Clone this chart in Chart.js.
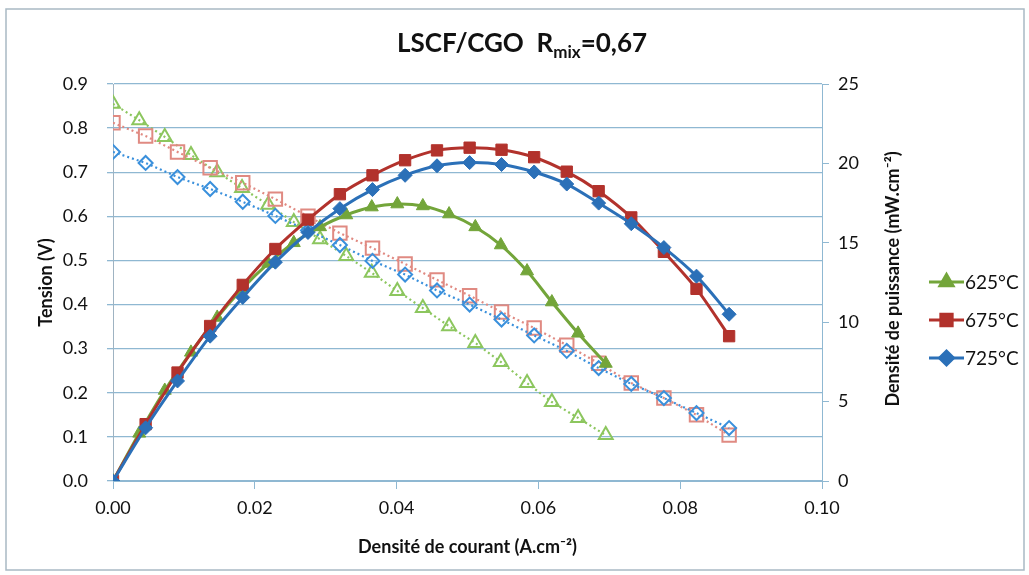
<!DOCTYPE html>
<html>
<head>
<meta charset="utf-8">
<script src="https://cdn.jsdelivr.net/npm/chart.js@4.4.1/dist/chart.umd.min.js"></script>
<style>
  html, body { margin: 0; padding: 0; background: #fff; }
  #wrap { position: relative; width: 1029px; height: 575px; }
</style>
</head>
<body>
<div id="wrap"><canvas id="chart"></canvas></div>
<script>
// current density (A.cm-2)
const current625 = [0, 0.0037, 0.0073, 0.0110, 0.0147, 0.0182, 0.0219, 0.0255, 0.0292, 0.0329,
                    0.0365, 0.0401, 0.0437, 0.0474, 0.0511, 0.0547, 0.0584, 0.0619, 0.0656, 0.0695];
const current675 = [0, 0.0046, 0.0091, 0.0137, 0.0183, 0.0229, 0.0275, 0.0320, 0.0366, 0.0412,
                    0.0457, 0.0503, 0.0548, 0.0594, 0.0640, 0.0685, 0.0731, 0.0777, 0.0823, 0.0869];
const current725 = current675;

// tension (V)
const volt625 = [0.855, 0.818, 0.780, 0.739, 0.700, 0.664, 0.626, 0.587, 0.548, 0.510,
                 0.472, 0.431, 0.392, 0.351, 0.313, 0.270, 0.222, 0.179, 0.143, 0.104];
const volt675 = [0.812, 0.782, 0.746, 0.710, 0.676, 0.639, 0.600, 0.562, 0.528, 0.492,
                 0.456, 0.420, 0.383, 0.347, 0.308, 0.267, 0.222, 0.188, 0.150, 0.104];
const volt725 = [0.746, 0.721, 0.689, 0.662, 0.633, 0.601, 0.568, 0.535, 0.499, 0.468,
                 0.432, 0.400, 0.366, 0.330, 0.295, 0.256, 0.220, 0.188, 0.154, 0.120];

// power density (mW.cm-2)
const power625 = [0, 3.0, 5.7, 8.1, 10.3, 12.1, 13.7, 15.0, 16.0, 16.75,
                  17.25, 17.44, 17.32, 16.81, 16.0, 14.86, 13.22, 11.27, 9.3, 7.4];
const power675 = [0, 3.58, 6.83, 9.76, 12.35, 14.61, 16.46, 18.06, 19.25, 20.2,
                  20.82, 20.99, 20.86, 20.39, 19.48, 18.25, 16.6, 14.43, 12.1, 9.12];
const power725 = [0, 3.35, 6.30, 9.12, 11.56, 13.78, 15.65, 17.15, 18.35, 19.25,
                  19.85, 20.05, 19.93, 19.46, 18.7, 17.5, 16.2, 14.7, 12.9, 10.5];

const legendLabels = ['625°C', '675°C', '725°C'];
const rightTitle = 'Densité de puissance (mW.cm⁻²)';

const green = '#73a53a', red = '#b2322c', blue = '#2b70b8';
const greenLight = '#8cc65e', redLight = '#e08a82', blueLight = '#3a90dc';
const gridColor = '#8fb8d2';
const font = 'Lato, "Open Sans", sans-serif';

function pts(xs, ys) {
  return xs.map((x, i) => ({ x: x, y: ys[i] }));
}

function powerSet(label, xs, ys, color, style, r) {
  return {
    label: label, data: pts(xs, ys), yAxisID: 'y2',
    borderColor: color, backgroundColor: color, borderWidth: 3,
    pointStyle: style, pointRadius: r, pointBorderWidth: 1,
    pointBackgroundColor: color, pointBorderColor: color, tension: 0.3
  };
}

function voltSet(label, xs, ys, color, style, r) {
  return {
    label: label, data: pts(xs, ys), yAxisID: 'y',
    borderColor: color, backgroundColor: 'rgba(255,255,255,0)', borderWidth: 2.2,
    borderDash: [2, 3], pointStyle: style, pointRadius: r, pointBorderWidth: 2,
    pointBackgroundColor: 'rgba(255,255,255,0)', pointBorderColor: color
  };
}

// title with subscript, outer frame, right axis title (bottom-to-top), legend
const decorations = {
  id: 'decorations',
  beforeDraw(chart) {
    const ctx = chart.ctx;
    ctx.save();
    ctx.strokeStyle = '#a9b9c4';
    ctx.lineWidth = 1.5;
    ctx.strokeRect(6, 9, 1018, 561);
    ctx.restore();
  },
  afterDraw(chart) {
    const ctx = chart.ctx;
    ctx.save();
    // title
    const big = 'bold 26px ' + font, small = 'bold 17px ' + font;
    const p1 = 'LSCF/CGO  R', p2 = 'mix', p3 = '=0,67';
    ctx.font = big; const w1 = ctx.measureText(p1).width, w3 = ctx.measureText(p3).width;
    ctx.font = small; const w2 = ctx.measureText(p2).width;
    let x = 522 - (w1 + w2 + w3) / 2;
    const base = 52;
    ctx.fillStyle = '#111';
    ctx.textBaseline = 'alphabetic';
    ctx.font = big; ctx.fillText(p1, x, base); x += w1;
    ctx.font = small; ctx.fillText(p2, x, base + 6); x += w2;
    ctx.font = big; ctx.fillText(p3, x, base);

    // right axis title
    ctx.save();
    ctx.translate(893, 279);
    ctx.rotate(-Math.PI / 2);
    ctx.font = 'bold 18px ' + font;
    ctx.textAlign = 'center';
    ctx.textBaseline = 'middle';
    ctx.fillText(rightTitle, 0, 0);
    ctx.restore();

    // legend
    const rows = [282, 320, 358];
    const sets = [chart.data.datasets[2], chart.data.datasets[1], chart.data.datasets[0]];
    sets.forEach((ds, i) => {
      const y = rows[i];
      ctx.strokeStyle = ds.borderColor;
      ctx.lineWidth = 3;
      ctx.beginPath(); ctx.moveTo(929, y); ctx.lineTo(964, y); ctx.stroke();
      Chart.helpers.drawPoint(ctx, {
        pointStyle: ds.pointStyle, radius: ds.pointRadius, borderWidth: 1, rotation: 0
      }, 946.5, y);
      ctx.fillStyle = ds.borderColor; ctx.fill();
      ctx.fillStyle = '#111';
      ctx.font = '19px ' + font;
      ctx.textBaseline = 'middle';
      ctx.fillText(legendLabels[i], 965, y + 1);
    });
    ctx.restore();
  }
};

new Chart(document.getElementById('chart'), {
  type: 'line',
  data: {
    datasets: [
      powerSet('725°C', current725, power725, blue, 'rectRot', 7),
      powerSet('675°C', current675, power675, red, 'rect', 8),
      powerSet('625°C', current625, power625, green, 'triangle', 7.5),
      voltSet('725°C V', current725, volt725, blueLight, 'rectRot', 7),
      voltSet('675°C V', current675, volt675, redLight, 'rect', 9.5),
      voltSet('625°C V', current625, volt625, greenLight, 'triangle', 8)
    ]
  },
  options: {
    responsive: true,
    maintainAspectRatio: false,
    animation: false,
    layout: { padding: { left: 31, right: 124, top: 84, bottom: 13 } },
    plugins: { legend: { display: false }, tooltip: { enabled: false } },
    scales: {
      x: {
        type: 'linear', min: 0, max: 0.1,
        afterFit: s => { s.height = 81; },
        ticks: { stepSize: 0.02, padding: 8, color: '#111', font: { family: font, size: 18 },
                 callback: v => v.toFixed(2) },
        grid: { drawOnChartArea: false, tickLength: 8, color: gridColor },
        border: { color: gridColor },
        title: { display: true, text: 'Densité de courant (A.cm⁻²)', color: '#111',
                 font: { family: font, size: 18, weight: 'bold' } }
      },
      y: {
        position: 'left', min: 0, max: 0.9,
        afterFit: s => { s.width = 82; },
        ticks: { stepSize: 0.1, padding: 19, color: '#111', font: { family: font, size: 18 },
                 callback: v => v.toFixed(1) },
        grid: { color: gridColor, tickLength: 6, lineWidth: 1.3 },
        border: { color: '#9fb3c2' },
        title: { display: true, text: 'Tension (V)', color: '#111',
                 font: { family: font, size: 18, weight: 'bold' } }
      },
      y2: {
        position: 'right', min: 0, max: 25,
        afterFit: s => { s.width = 83; },
        ticks: { stepSize: 5, padding: 9, color: '#111', font: { family: font, size: 18 } },
        grid: { drawOnChartArea: false, tickLength: 7, color: gridColor },
        border: { color: gridColor },
        title: { display: false }
      }
    }
  },
  plugins: [decorations]
});
</script>
</body>
</html>
